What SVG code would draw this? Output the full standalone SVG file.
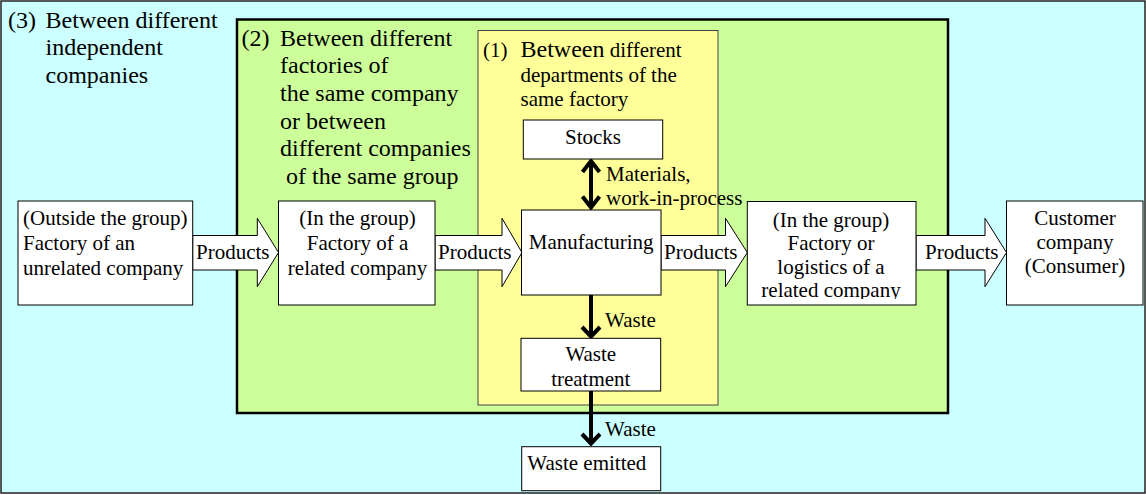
<svg xmlns="http://www.w3.org/2000/svg" width="1146" height="495" viewBox="0 0 1146 495">
<style>
text{font-family:"Liberation Serif","Times New Roman",serif;font-size:21px;fill:#000}
.t24{font-size:24px}
.c{text-anchor:middle}
.box{fill:#fff;stroke:#000;stroke-width:1}
.blk{fill:#fff;stroke:#000;stroke-width:1}
.ln{stroke:#000;stroke-width:4;fill:none}
.hd{stroke:#000;stroke-width:4;fill:none;stroke-linecap:butt;stroke-linejoin:miter}
</style>
<defs>
<clipPath id="clipR"><rect x="748" y="202" width="167" height="97"/></clipPath>
</defs>
<g id="region3">
<rect x="1" y="1" width="1144" height="492" fill="#CCFFFF" stroke="#222" stroke-width="1.5"/>
<text class="t24" x="8" y="27.5">(3)</text>
<text class="t24" x="45.5" y="27.5">Between different</text>
<text class="t24" x="45.5" y="55">independent</text>
<text class="t24" x="45.5" y="82.5">companies</text>
</g>
<g id="region2">
<rect x="237" y="19.5" width="711" height="393.5" fill="#CCFF99" stroke="#000" stroke-width="2.5"/>
<text class="t24" x="241.5" y="45.5">(2)</text>
<text class="t24" x="280" y="45.5">Between different</text>
<text class="t24" x="280" y="73">factories of</text>
<text class="t24" x="280" y="100.5">the same company</text>
<text class="t24" x="280" y="128.5">or between</text>
<text class="t24" x="280" y="156">different companies</text>
<text class="t24" x="286" y="183.5">of the same group</text>
</g>
<g id="region1">
<rect x="478" y="30.5" width="240" height="374.5" fill="#FFFF99" stroke="#444" stroke-width="1"/>
<text x="483" y="57">(1)</text>
<text x="520.5" y="57"><tspan class="t24">Between</tspan> different</text>
<text x="520.5" y="82">departments of the</text>
<text x="520.5" y="106">same factory</text>
</g>
<g id="connectors">
<g id="arrow1">
<polygon class="blk" points="192.7,235.5 257.3,235.5 257.3,218.3 278.5,252.5 257.3,286.7 257.3,270 192.7,270"/>
<text x="196" y="259">Products</text>
</g>
<g id="arrow2">
<polygon class="blk" points="435,235.5 502,235.5 502,218.3 522,252.5 502,286.7 502,270 435,270"/>
<text x="438" y="259">Products</text>
</g>
<g id="arrow3">
<polygon class="blk" points="661,235.5 725.5,235.5 725.5,218.3 747.3,252.5 725.5,286.7 725.5,270 661,270"/>
<text x="664" y="259">Products</text>
</g>
<g id="arrow4">
<polygon class="blk" points="916,235.5 985,235.5 985,218.3 1006.5,252.5 985,286.7 985,270 916,270"/>
<text x="925" y="259">Products</text>
</g>
<g id="materials">
<line class="ln" x1="591" y1="161" x2="591" y2="208"/>
<polyline class="hd" points="582.5,172 591,161 599.5,172"/>
<polyline class="hd" points="582.5,196.5 591,207.5 599.5,196.5"/>
<text x="606" y="181">Materials,</text>
<text x="606" y="204.5">work-in-process</text>
</g>
<g id="waste1">
<line class="ln" x1="591" y1="295" x2="591" y2="336"/>
<polyline class="hd" points="582,327 591,336.5 600,327"/>
<text x="605" y="326.7">Waste</text>
</g>
<g id="waste2">
<line class="ln" x1="591" y1="391" x2="591" y2="443"/>
<polyline class="hd" points="582,434 591,443.5 600,434"/>
<text x="605" y="436">Waste</text>
</g>
</g>
<g id="node-outside">
<rect class="box" x="18" y="201" width="174.7" height="104"/>
<text x="23" y="224.5">(Outside the group)</text>
<text x="23" y="249.5">Factory of an</text>
<text x="23" y="275">unrelated company</text>
</g>
<g id="node-related">
<rect class="box" x="278.5" y="201" width="156.5" height="104"/>
<text class="c" x="357.5" y="224.5">(In the group)</text>
<text class="c" x="357.5" y="249.5">Factory of a</text>
<text class="c" x="357.5" y="275">related company</text>
</g>
<g id="node-stocks">
<rect class="box" x="523.3" y="120" width="139.4" height="39"/>
<text class="c" x="593" y="144.3">Stocks</text>
</g>
<g id="node-manufacturing">
<rect class="box" x="521.5" y="210" width="139.5" height="85"/>
<text class="c" x="591.2" y="249.3">Manufacturing</text>
</g>
<g id="node-logistics">
<rect class="box" x="747.3" y="201.5" width="168.7" height="103.5"/>
<g clip-path="url(#clipR)">
<text class="c" x="831" y="226.5">(In the group)</text>
<text class="c" x="831" y="250">Factory or</text>
<text class="c" x="831" y="273.5">logistics of a</text>
<text class="c" x="831" y="297">related company</text>
</g>
</g>
<g id="node-customer">
<rect class="box" x="1006.5" y="201" width="136.5" height="104"/>
<text class="c" x="1075" y="224.5">Customer</text>
<text class="c" x="1075" y="248.5">company</text>
<text class="c" x="1075" y="273.3">(Consumer)</text>
</g>
<g id="node-waste-treatment">
<rect class="box" x="521" y="338.3" width="139.7" height="52.7"/>
<text class="c" x="590.8" y="361">Waste</text>
<text class="c" x="590.8" y="386">treatment</text>
</g>
<g id="node-waste-emitted">
<rect class="box" x="521.7" y="446.7" width="139" height="44"/>
<text x="527.3" y="470">Waste emitted</text>
</g>
</svg>
